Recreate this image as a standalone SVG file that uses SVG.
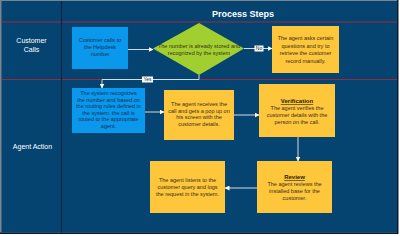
<svg xmlns="http://www.w3.org/2000/svg" width="400" height="236" viewBox="0 0 400 236">
<defs>
<style>
.t{font-family:"Liberation Sans",Arial,sans-serif;font-size:5.5px;text-anchor:middle;fill:#3a2e1a}
.tb{font-family:"Liberation Sans",Arial,sans-serif;font-size:5.5px;text-anchor:middle;fill:#12305a}
.h{font-family:"Liberation Sans",Arial,sans-serif;font-weight:bold;text-anchor:middle;fill:#ffffff}
.lane{font-family:"Liberation Sans",Arial,sans-serif;font-size:7px;text-anchor:middle;fill:#ffffff}
.ttl{font-family:"Liberation Sans",Arial,sans-serif;font-size:6px;font-weight:bold;text-anchor:middle;fill:#2a2010;text-decoration:underline}
.blue{fill:#0a98ec}
.yel{fill:#fdc63b}
.c{fill:none;stroke:#d4dbe2;stroke-width:1}
.lbl{fill:#ffffff}
.lt{font-family:"Liberation Sans",Arial,sans-serif;font-size:5px;text-anchor:middle;fill:#222}
</style>
<marker id="a" markerWidth="5" markerHeight="5" refX="4.5" refY="2.5" orient="auto" markerUnits="userSpaceOnUse">
<path d="M0,0 L5,2.5 L0,5 Z" fill="#ffffff"/>
</marker>
</defs>
<rect x="0" y="0" width="400" height="236" fill="#ffffff"/>
<rect x="0" y="0" width="398.5" height="234" fill="#0b1a2c"/>
<rect x="0" y="0" width="397" height="232.5" fill="#7a8590"/>
<rect x="1.5" y="1" width="395.5" height="231.5" fill="#054470"/>
<g id="grid">
<line x1="1.5" y1="22" x2="397" y2="22" stroke="#9a2a40" stroke-width="1"/>
<line x1="1.5" y1="79.5" x2="397" y2="79.5" stroke="#9a2a40" stroke-width="1"/>
<line x1="61.5" y1="1" x2="61.5" y2="232.5" stroke="#0b1f36" stroke-width="1"/>
<text class="h" x="243" y="16.5" font-size="9">Process Steps</text>
<text class="lane" x="31.5" y="43">Customer</text>
<text class="lane" x="31.5" y="51.5">Calls</text>
<text class="lane" x="32.5" y="149">Agent Action</text>
</g>
<g id="connectors">
<line class="c" x1="128" y1="49.5" x2="153" y2="49.5" marker-end="url(#a)"/>
<line class="c" x1="244" y1="48.5" x2="272" y2="48.5" marker-end="url(#a)"/>
<polyline class="c" points="199,75 199,79.5 102,79.5 102,88" marker-end="url(#a)"/>
<line class="c" x1="145" y1="112" x2="164" y2="112" marker-end="url(#a)"/>
<line class="c" x1="234" y1="115" x2="259" y2="115" marker-end="url(#a)"/>
<line class="c" x1="298" y1="137" x2="298" y2="161" marker-end="url(#a)"/>
<line class="c" x1="257" y1="188" x2="225" y2="188" marker-end="url(#a)"/>
<rect class="lbl" x="254.5" y="45.5" width="9" height="6"/>
<text class="lt" x="259" y="50.3">No</text>
<rect class="lbl" x="142" y="76.5" width="11" height="6"/>
<text class="lt" x="147.5" y="81.3">Yes</text>
</g>
<g id="n1">
<rect class="blue" x="72" y="27" width="56" height="42"/>
<text class="tb" x="100" y="42">Customer calls to</text>
<text class="tb" x="100" y="49">the Helpdesk</text>
<text class="tb" x="100" y="56">number</text>
</g>
<g id="n2">
<polygon points="153,48.5 199,23 244,48.5 199,75" fill="#a2cf30"/>
<text class="t" x="199" y="47.5" fill="#1e2a10">The number is already stored and</text>
<text class="t" x="199" y="54.5">recognized by the system</text>
</g>
<g id="n3">
<rect class="yel" x="272" y="26" width="67" height="47"/>
<text class="t" x="305.5" y="40">The agent asks certain</text>
<text class="t" x="305.5" y="47.5">questions and try to</text>
<text class="t" x="305.5" y="55">retrieve the customer</text>
<text class="t" x="305.5" y="62.5">record manually.</text>
</g>
<g id="n4">
<rect class="blue" x="72" y="88" width="73" height="45"/>
<text class="tb" x="108.5" y="95">The system recognizes</text>
<text class="tb" x="108.5" y="101.5">the number and based on</text>
<text class="tb" x="108.5" y="108">the routing rules defined in</text>
<text class="tb" x="108.5" y="114.5">the system, the call is</text>
<text class="tb" x="108.5" y="121">routed to the appropriate</text>
<text class="tb" x="108.5" y="127.5">agent.</text>
</g>
<g id="n5">
<rect class="yel" x="164" y="90" width="70" height="50"/>
<text class="t" x="199" y="106">The agent receives the</text>
<text class="t" x="199" y="112.7">call and gets a pop up on</text>
<text class="t" x="199" y="119.4">his screen with the</text>
<text class="t" x="199" y="126">customer details.</text>
</g>
<g id="n6">
<rect class="yel" x="259" y="84" width="76" height="53"/>
<text class="ttl" x="297" y="103">Verification</text>
<text class="t" x="297" y="110">The agent verifies the</text>
<text class="t" x="297" y="117">customer details with the</text>
<text class="t" x="297" y="124">person on the call.</text>
</g>
<g id="n7">
<rect class="yel" x="257" y="161" width="75" height="52"/>
<text class="ttl" x="294.5" y="179">Review</text>
<text class="t" x="294.5" y="186">The agent reviews the</text>
<text class="t" x="294.5" y="193">installed base for the</text>
<text class="t" x="294.5" y="200">customer.</text>
</g>
<g id="n8">
<rect class="yel" x="150" y="161" width="75" height="52"/>
<text class="t" x="187.5" y="182">The agent listens to the</text>
<text class="t" x="187.5" y="189">customer query and logs</text>
<text class="t" x="187.5" y="195.5">the request in the system.</text>
</g>
</svg>
